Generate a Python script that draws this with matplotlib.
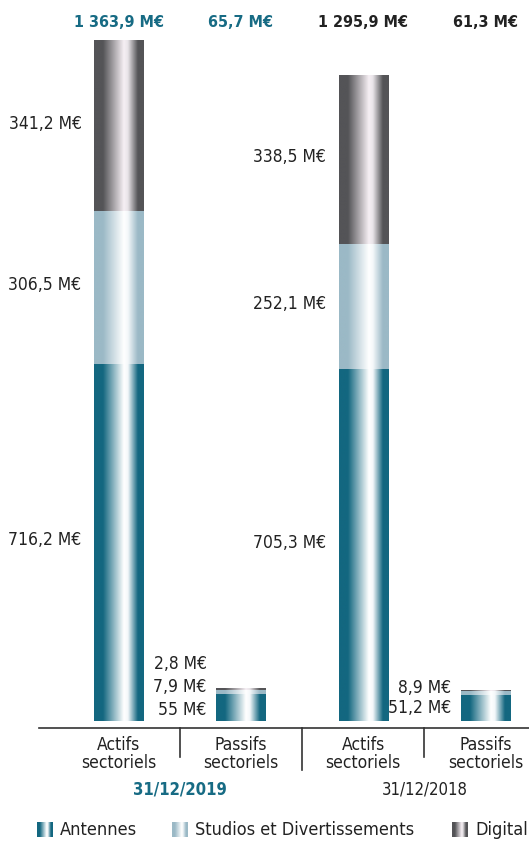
import numpy as np
import matplotlib
matplotlib.use("Agg")
import matplotlib.pyplot as plt
from matplotlib.colors import LinearSegmentedColormap

# ── Data ──────────────────────────────────────────────────────────────
categories = ["Actifs\nsectoriels", "Passifs\nsectoriels",
              "Actifs\nsectoriels", "Passifs\nsectoriels"]
years = ["31/12/2019", "31/12/2018"]
series = ["Antennes", "Studios et Divertissements", "Digital"]

antennes = [716.2, 55.0, 705.3, 51.2]
studios = [306.5, 7.9, 252.1, 8.9]
digital = [341.2, 2.8, 338.5, 1.2]
totals = [1363.9, 65.7, 1295.9, 61.3]

ant_labels = ["716,2 M€", "55 M€", "705,3 M€", "51,2 M€"]
stu_labels = ["306,5 M€", "7,9 M€", "252,1 M€", "8,9 M€"]
dig_labels = ["341,2 M€", "2,8 M€", "338,5 M€", ""]
total_labels = ["1 363,9 M€", "65,7 M€", "1 295,9 M€", "61,3 M€"]

# ── Style ─────────────────────────────────────────────────────────────
plt.rcParams["font.family"] = ["DejaVu Sans"]
plt.rcParams["font.stretch"] = "condensed"
TEAL = "#176b84"
TEXT = "#222222"

cmaps = {
    "Antennes": LinearSegmentedColormap.from_list("ant", [
        (0.0, "#136780"), (0.18, "#136780"), (0.60, "#ffffff"),
        (0.68, "#f4f8fa"), (0.88, "#136780"), (1.0, "#136780")]),
    "Studios et Divertissements": LinearSegmentedColormap.from_list("stu", [
        (0.0, "#9bb9c6"), (0.18, "#9bb9c6"), (0.60, "#ffffff"),
        (0.68, "#f4f8fa"), (0.88, "#9bb9c6"), (1.0, "#9bb9c6")]),
    "Digital": LinearSegmentedColormap.from_list("dig", [
        (0.0, "#545457"), (0.18, "#545457"), (0.60, "#f6eff4"),
        (0.68, "#e8e4e8"), (0.88, "#545457"), (1.0, "#545457")]),
}
grad = np.linspace(0, 1, 256).reshape(1, -1)

W, H = 529, 841
fig = plt.figure(figsize=(W / 100, H / 100), dpi=100)

# axes: bottom spine = baseline line, y in M€
px_per_me = 0.4986
gap_me = 7 / px_per_me
ax = fig.add_axes([39 / W, (H - 728) / H, (W - 39) / W, 728 / H])
x_per_px = 1 / 122.33
for s in ["top", "left", "right"]:
    ax.spines[s].set_visible(False)
ax.spines["bottom"].set_color("#333333")
ax.spines["bottom"].set_linewidth(1.2)
ax.set_xticks([])
ax.set_yticks([])
ax.patch.set_alpha(0)

bar_w = 49 * x_per_px
xs = np.arange(len(categories))


def draw_segment(x, y0, h, name):
    ax.imshow(grad, cmap=cmaps[name], aspect="auto", interpolation="bilinear",
              extent=(x - bar_w / 2, x + bar_w / 2, y0, y0 + h), zorder=2)


for i, x in enumerate(xs):
    draw_segment(x, 0, antennes[i], "Antennes")
    draw_segment(x, antennes[i], studios[i], "Studios et Divertissements")
    draw_segment(x, antennes[i] + studios[i], digital[i], "Digital")

ax.set_xlim(-79.5 * x_per_px, 3 + 43.5 * x_per_px)
ax.set_ylim(-gap_me, 728 / px_per_me - gap_me)

# ── Segment value labels ──────────────────────────────────────────────
for i, x in enumerate(xs):
    left = x - bar_w / 2
    if totals[i] > 500:
        segs = [(0, antennes[i], ant_labels[i]),
                (antennes[i], studios[i], stu_labels[i]),
                (antennes[i] + studios[i], digital[i], dig_labels[i])]
        for y0, h, lab in segs:
            ax.annotate(lab, (left, y0 + h / 2), xytext=(-9, 1.5),
                        textcoords="offset points", ha="right", va="center",
                        fontsize=12.5, color=TEXT)
    else:
        labs = [l for l in (ant_labels[i], stu_labels[i], dig_labels[i]) if l]
        step = 16.5 if i == 1 else 14.5
        base = -2 if i == 1 else 0
        for k, lab in enumerate(labs):
            ax.annotate(lab, (left, antennes[i] / 2), xytext=(-7, base + k * step),
                        textcoords="offset points", ha="right", va="center",
                        fontsize=12.5, color=TEXT)

# ── Totals on top ─────────────────────────────────────────────────────
for i, x in enumerate(xs):
    ax.text(x, 0.969, total_labels[i], transform=ax.get_xaxis_transform(),
            ha="center", va="center", fontsize=11.5, fontweight="bold",
            color=TEAL if i < 2 else TEXT)

# ── Category / year labels under the baseline ─────────────────────────
tr = ax.get_xaxis_transform()
for i, x in enumerate(xs):
    ax.annotate(categories[i], (x, 0), xycoords=tr, xytext=(0, -6),
                textcoords="offset points", ha="center", va="top",
                fontsize=12.5, color=TEXT, linespacing=1.0)

for j, sep in enumerate([0.5, 1.5, 2.5]):
    length = 42 if j == 1 else 29
    ax.plot([sep, sep], [0, -length / 728], transform=tr, color="#333333",
            lw=1.2, clip_on=False)

ax.annotate(years[0], (0.5, 0), xycoords=tr, xytext=(0, -38),
            textcoords="offset points", ha="center", va="top",
            fontsize=12, fontweight="bold", color=TEAL)
ax.annotate(years[1], (2.5, 0), xycoords=tr, xytext=(0, -38),
            textcoords="offset points", ha="center", va="top",
            fontsize=12, color=TEXT)

# ── Legend ────────────────────────────────────────────────────────────
leg_x = [37, 172, 452]
for name, lx in zip(series, leg_x):
    iax = fig.add_axes([lx / W, (H - 837) / H, 16 / W, 15 / H])
    iax.imshow(grad, cmap=cmaps[name], aspect="auto", interpolation="bilinear")
    iax.axis("off")
    fig.text((lx + 23) / W, (H - 830) / H, name, ha="left", va="center",
             fontsize=13, color=TEXT)

fig.savefig("out.png", dpi=100)
